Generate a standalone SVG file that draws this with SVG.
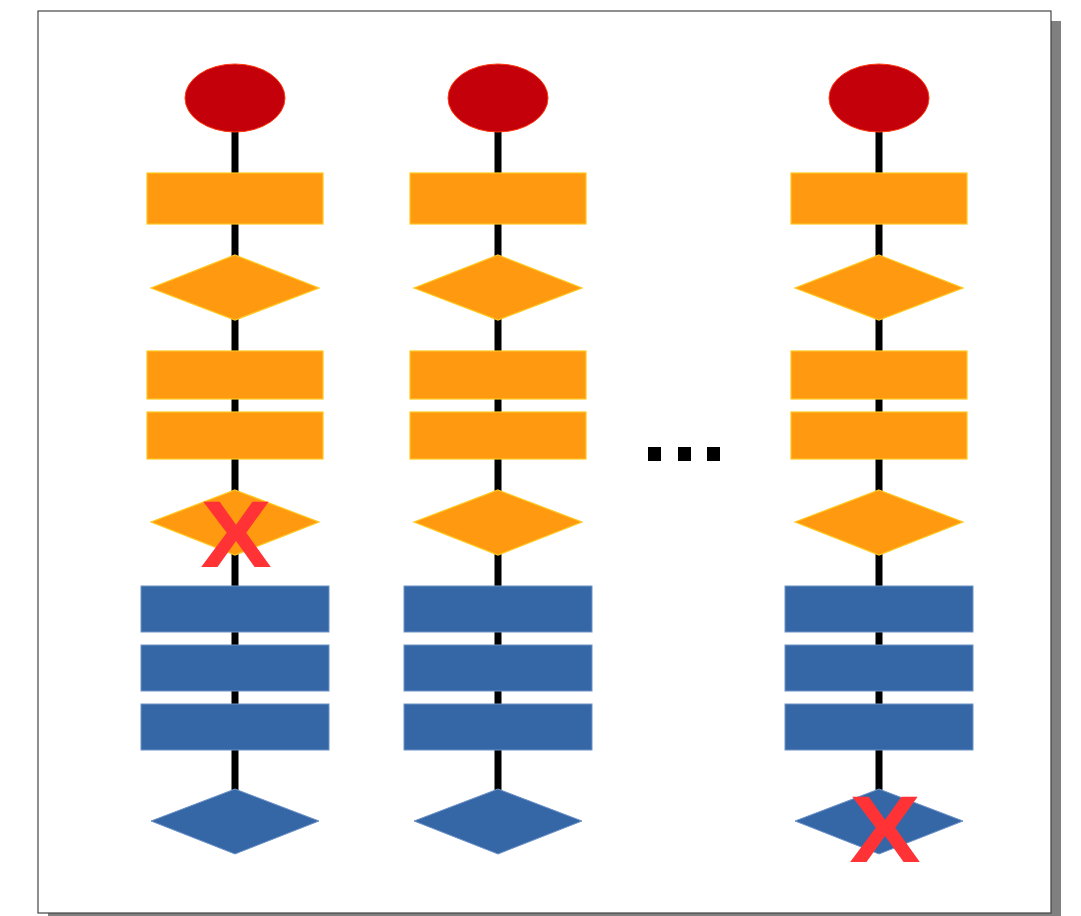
<svg xmlns="http://www.w3.org/2000/svg" width="1081" height="916" viewBox="0 0 1081 916">
  <style>
    .page { fill: #ffffff; stroke: #444444; stroke-width: 1.2; }
    .shadow { fill: #808080; }
    .start { fill: #c4000b; stroke: #ff3a10; stroke-width: 1; }
    .step { fill: #ff9910; stroke: #ffc820; stroke-width: 1.2; }
    .data { fill: #3567a7; stroke: #6e93c8; stroke-width: 1; }
    .spine { stroke: #000000; stroke-width: 7; fill: none; }
    .dot { fill: #000000; }
    .mark { font-family: "Liberation Sans", Arial, sans-serif; font-weight: bold; font-size: 94px; fill: #ff3336; text-anchor: middle; }
  </style>
  <defs>
    <g id="column">
      <line class="spine" x1="0" y1="130" x2="0" y2="790"/>
      <ellipse class="start" cx="0" cy="98" rx="50" ry="34"/>
      <rect class="step" x="-88" y="173" width="176" height="51"/>
      <polygon class="step" points="0,255 84,288 0,320 -84,288"/>
      <rect class="step" x="-88" y="351" width="176" height="48"/>
      <rect class="step" x="-88" y="412" width="176" height="47"/>
      <polygon class="step" points="0,490 84,522 0,555 -84,522"/>
      <rect class="data" x="-94" y="586" width="188" height="46"/>
      <rect class="data" x="-94" y="645" width="188" height="46"/>
      <rect class="data" x="-94" y="704" width="188" height="46"/>
      <polygon class="data" points="0,789 84,821 0,854 -84,821"/>
    </g>
  </defs>

  <!-- page with drop shadow -->
  <rect class="shadow" x="48" y="21" width="1013" height="902"/>
  <rect class="page" x="38" y="11" width="1013" height="902"/>

  <g id="connectors"/>

  <g id="flow-1"><use href="#column" x="235" y="0"/></g>
  <g id="flow-2"><use href="#column" x="498" y="0"/></g>
  <g id="flow-n"><use href="#column" x="879" y="0"/></g>

  <!-- ellipsis between flows -->
  <g id="ellipsis">
    <rect class="dot" x="648" y="447" width="13" height="14"/>
    <rect class="dot" x="678" y="447" width="13" height="14"/>
    <rect class="dot" x="707" y="447" width="13" height="14"/>
  </g>

  <!-- failure marks, slightly widened -->
  <g id="fail-1" transform="translate(236 567) scale(1.14 1)"><text class="mark" x="0" y="0">X</text></g>
  <g id="fail-n" transform="translate(885 862) scale(1.14 1)"><text class="mark" x="0" y="0">X</text></g>
</svg>
